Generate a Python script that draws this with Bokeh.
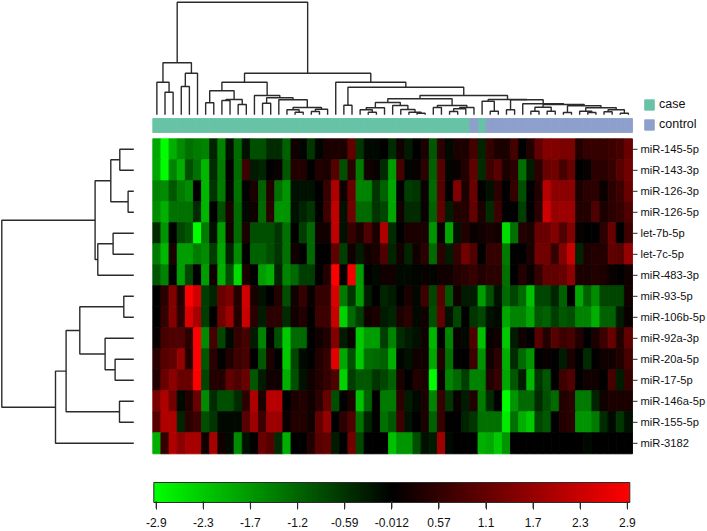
from bokeh.embed import file_html
from bokeh.resources import INLINE
from bokeh.plotting import figure
from bokeh.models import (ColumnDataSource, LinearColorMapper, ColorBar, FixedTicker,
                          Range1d, Legend, LegendItem)
from bokeh.core.properties import value

row_labels = ["miR-145-5p", "miR-143-3p", "miR-126-3p", "miR-126-5p", "let-7b-5p", "let-7c-5p", "miR-483-3p",
              "miR-93-5p", "miR-106b-5p", "miR-92a-3p", "miR-20a-5p", "miR-17-5p", "miR-146a-5p", "miR-155-5p",
              "miR-3182"]

mir145 = [-1.9,-2.9,-2.0,-1.6,-1.3,-1.4,-1.5,-0.4,-1.5,-0.2,-1.2,-0.2,-0.9,-0.9,-0.5,-0.5,-1.1,0.2,-0.05,-0.6,
          -0.05,0.3,0.3,0.3,1.1,-0.6,-0.1,-0.1,0,-0.5,0.2,-0.3,0,0.3,-1.0,0.5,-0.1,0.3,0.3,
          0.8,-0.4,0.6,0.3,0.3,0.8,0,0.4,1.1,1.5,1.5,1.4,1.4,0.4,0.6,0.6,0.6,0.7,0.8,1.2]
mir143 = [-1.9,-2.9,-1.5,-2.0,-0.9,-1.3,-2.1,-0.5,-1.4,0,-1.2,0.7,-0.3,-0.4,0,0.1,-1.0,0.4,0.4,0,
          0.4,0.3,1.0,-0.9,0.5,-1.4,0.2,0.1,-0.5,-1.8,0.8,-0.05,0.1,0.5,-1.1,1.0,-0.05,0.1,0.4,
          1.1,-0.5,0.7,1.0,0.3,0.5,-1.3,-0.3,0.5,1.2,1.3,0.8,1.2,0,0.1,0.5,0.5,0.6,1.0,1.3]
mir126_3p = [-1.5,-1.6,-1.0,-1.4,-1.6,0,-2.1,-0.6,-1.4,-0.05,-1.3,0,0.3,-1.1,0.4,-1.3,-1.7,-0.2,-0.2,-0.2,
             0,0.6,2.0,0.2,1.2,-1.5,-1.5,-0.6,-1.1,-1.9,0,-0.7,-0.6,0.1,-1.2,1.0,0,1.5,0.3,
             1.2,0,-0.2,0.5,0,0.6,-0.9,0,0.4,2.1,1.6,1.6,1.6,0.3,0.5,0.5,0.1,0.5,0.7,1.2]
mir126_5p = [-1.6,-2.0,-1.3,-1.3,-1.3,-0.5,-2.1,0,-0.9,0.3,-1.2,-0.1,0.2,-1.2,0.5,-1.7,-1.7,-0.2,-0.4,-0.6,
             0,0.7,2.2,-0.2,1.3,-1.2,-1.2,-0.6,-0.8,-1.9,0.2,-0.5,-0.5,0.1,-1.1,1.1,-0.3,0.4,0.4,
             1.1,0.3,-0.5,0.7,0,0,-0.7,0,0.5,2.4,1.7,1.8,1.8,0.4,0.4,0.9,0.3,0.5,0.6,0.9]
let7b = [-0.5,-1.7,0,-0.8,-1.0,-2.9,-1.4,-0.2,-1.8,0.2,-1.2,0.3,-0.9,-0.9,-0.9,-0.6,-1.3,0,-0.7,-1.2,
         0.2,0.2,2.2,-0.2,0.6,0.3,0.9,0.3,2.0,-0.5,0,0.3,0.3,0.3,-1.7,0.1,-1.9,-0.2,0.4,
         0.1,0.2,0.3,0.2,-2.5,-1.3,0.4,0.3,1.2,1.2,1.5,0.9,1.5,0.1,0,0,0.5,1.2,0,0.7]
let7c = [-1.4,-2.1,0.3,-1.8,-1.8,-1.4,-1.6,-0.7,-1.9,-0.4,-1.6,0,-1.1,-1.1,-0.9,-0.6,-1.3,0.2,0,-1.2,
         0,0,1.1,-0.7,0.2,-0.3,0.2,0.3,0.9,-0.4,0.2,-0.4,0.2,0.5,-1.2,0.5,-0.3,0.6,1.3,
         0.9,0,0.6,0.6,-1.4,0,0,0.3,1.3,1.3,0.6,1.5,2.3,-0.4,0.3,0.4,0.4,1.1,1.0,1.7]
mir483 = [-1.0,-1.5,0,-1.8,-0.8,0,-1.8,0.2,-2.0,-0.9,-2.5,0.3,0,-1.8,-2.0,-0.4,-1.5,-1.2,-0.7,-0.7,
          0,0.4,2.9,0.1,2.8,-1.8,0,-0.1,0.2,0.2,-0.1,-0.1,-0.05,0.1,-0.05,0.2,0.2,0.4,0.5,
          0.6,0.4,0.5,0.5,-1.3,0,0.4,0.1,0.6,1.1,1.1,1.2,1.6,0.3,0.3,0.4,0.3,0.1,0,0.2]
mir93 = [0,0.5,1.5,0.4,2.9,2.4,-0.7,-0.4,1.2,1.4,0.4,2.4,0.3,-0.2,0,0.4,-0.9,0.2,0.6,0.1,
         0.6,0.6,2.5,-1.4,-0.6,-1.8,-0.3,0,-0.4,-0.3,0,0.3,-0.1,0.7,-0.8,1.0,-1.0,0.2,-0.3,
         -0.3,-1.8,-0.9,-0.2,-1.2,-0.8,-1.2,-2.2,-0.8,-0.8,-0.4,-1.1,0,-1.9,-1.1,-1.6,-0.8,-0.8,-0.8,0.2]
mir106b = [0,0.6,1.5,0.5,2.5,1.9,-0.7,0,1.3,1.8,0.4,2.3,0.5,-0.3,0.5,0.5,-0.5,0.2,0.4,0,
           0.7,0.7,2.3,-2.4,-1.2,-0.7,0.2,0.3,-0.3,-0.4,0.3,0.5,-0.1,0.2,-0.9,1.1,-0.2,-0.8,0,
           -0.6,-0.8,-0.2,-0.1,-1.9,-1.5,-1.5,-1.9,-1.0,-1.1,-0.7,-1.0,-0.9,-1.5,-1.5,-2.0,-1.1,-1.1,-0.3,0.1]
mir92a = [0.1,0.8,0.9,0.9,0.5,2.9,-1.6,0.8,-0.8,-0.1,0.6,0.8,-0.3,-1.5,0,-0.9,-2.3,-1.2,-1.2,0,
          0.2,0.4,1.5,-0.3,0.1,-2.3,-1.8,-1.8,-0.7,-1.5,-0.5,-0.3,-0.2,0.2,-2.1,0,-1.5,0.1,-0.1,
          0.9,-2.2,0.1,0.2,-2.3,-0.3,0.2,0,1.0,0.4,1.0,0.7,0.8,0.4,0,0.3,0.7,1.2,0.4,1.1]
mir20a = [0.5,1.0,1.1,1.7,0.4,2.9,-1.0,0.5,0,0.4,0.7,0.8,0,-1.0,0.3,0,-2.3,-0.8,-0.1,0,
          0.4,0.6,2.6,-1.9,-0.9,-2.3,-1.3,-1.2,-1.1,-2.0,-0.05,-0.2,0.2,0.2,-1.9,0.4,-1.3,0,0,
          0.7,-1.7,0.2,0.5,-2.0,-0.5,-1.2,-1.7,0,0.1,0,-0.3,0.3,0,-0.5,0,0.2,0.2,0.4,0.8]
mir17 = [0.4,1.2,1.6,1.2,1.2,2.9,-0.8,0.4,0.4,1.1,0.9,1.2,-1.0,-0.3,0.2,0.2,-2.0,-0.9,-0.2,0.2,
         0.4,0.6,0.9,-2.4,-0.7,-1.0,-1.0,-0.6,-0.8,-1.1,0.3,0,0.4,0.3,-2.9,0.1,-1.5,-1.2,-0.7,
         -1.5,-1.5,0.4,0.6,-1.9,-1.0,-0.3,-2.1,-0.6,-1.0,0,0.7,0.9,0,0.2,0.2,0,0.8,-0.3,0.6]
mir146a = [1.4,2.0,1.3,-0.1,0.4,1.2,-1.6,-0.5,-0.9,-0.9,-0.5,0.5,2.0,0.3,2.1,2.1,0,0.3,0.4,0.2,
           0.5,1.2,-0.9,0,0.3,-2.2,-1.1,0,-1.4,-1.4,0.5,-0.3,-0.1,0.3,-1.5,0.6,-0.6,0.1,-0.3,
           0.4,-1.4,-0.5,0,-2.9,-1.7,-1.2,-1.2,-0.5,-0.9,-1.2,0.4,0.5,-1.4,-1.4,-0.4,0.2,0.3,0.3,0.3]
mir155 = [1.0,2.0,2.0,-0.4,0.5,0.7,-0.9,-0.6,-0.1,-0.1,-0.1,1.0,1.8,0.7,1.8,1.8,0.1,0.4,0.4,0.2,
          1.1,1.7,0,0.5,0.9,-1.3,-0.4,0,-1.3,-1.0,0.7,-0.2,0,0.3,-1.1,0.6,0,0,-0.4,
          -0.6,-1.3,-1.3,-1.3,-2.7,-1.3,-2.0,-2.3,-0.8,-1.0,0,0.4,0.5,-1.7,-1.7,-1.4,-0.5,-0.1,-0.6,-0.2]
mir3182 = [-2.0,0.6,2.0,1.6,1.9,1.9,0.2,1.9,0.2,-0.1,-1.6,-0.2,0,1.2,1.0,-0.5,-2.0,0,0,0.4,
           1.0,1.1,-0.3,0,1.3,-0.8,0,0,0,-2.2,-1.7,-1.7,-0.9,-0.2,-0.3,1.8,-0.1,0,0,
           0,-2.0,-1.9,-2.3,-1.7,0,0,0,0,0,0,0,0,0,-0.1,0,0,0,0,0]
rows = [mir145, mir143, mir126_3p, mir126_5p, let7b, let7c, mir483, mir93, mir106b, mir92a, mir20a, mir17,
        mir146a, mir155, mir3182]

# sample classes, in heatmap column order
col_groups = ["case"] * 39 + ["control"] + ["case"] + ["control"] * 18

# dendrograms: nested (left, right, merge height); ints are leaf positions
col_left = ((0, (1, 2, 22.6), 32.6), ((3, 4, 28.3), 5, 41.6), 52)
col_b = (((6, 7, 12), ((8, 9, 14.3), (10, 11, 10.3), 15.3), 24),
         (12, ((13, 14, 11.6), (15, ((16, (17, 18, 2.6), 5), ((19, 20, 3.3), 21, 5.6), 7.3), 15), 17), 19.3), 32.6)
col_n2 = (((25, (26, 27, 2.6), 5), 28, 7), (29, (30, (31, (32, 33, 1.6), 2.6), 5.3), 9.3), 12.3)
col_n3 = ((34, 35, 7.3), (((36, 37, 3.3), 38, 6), 39, 7.3), 9.3)
col_n5 = ((40, (41, 42, 3.6), 13.6),
          ((43, 44, 5), (45, (((46, 47, 3.6), (48, 49, 3.6), 7.6),
                              ((50, 51, 2.3), ((52, (53, 54, 2.3), 3.6), ((55, 56, 3), (57, 58, 1.6), 5), 7), 9), 10.3), 11), 15), 15.3)
col_c = (22, ((23, 24, 9.6), ((col_n2, col_n3, 16), col_n5, 19.3), 27.6), 32.6)
col_tree = (col_left, (col_b, col_c, 41.6), 112.6)
row_tree = ((((0, 1, 14), (2, 3, 5.7), 23), ((4, 5, 20.7), 6, 36), 38.7),
            ((((7, 8, 10), (9, (10, 11, 18.7), 28.7), 54), (12, 13, 14.3), 67.7), 14, 78.3), 132)

tick_values = [-2.9, -2.32, -1.74, -1.16, -0.58, 0, 0.58, 1.16, 1.74, 2.32, 2.9]
tick_labels = ["-2.9", "-2.3", "-1.7", "-1.2", "-0.59", "-0.012", "0.57", "1.1", "1.7", "2.3", "2.9"]


def walk(node, segs):
    """Return (leaf position, height) of a node, collecting U-shaped links."""
    if isinstance(node, int):
        return node + 0.5, 0.0
    pa, ha = walk(node[0], segs)
    pb, hb = walk(node[1], segs)
    segs.append(([pa, pa, pb, pb], [ha, node[2], node[2], hb]))
    return (pa + pb) / 2, node[2]


FONT = "Liberation Sans"
INK = "#2b2b2b"
n_cols, n_rows = len(mir145), len(rows)
for r in rows:
    assert len(r) == n_cols

palette = ["#%02x%02x%02x" % (max(0, 2 * i - 255), max(0, 255 - 2 * i), 0) for i in range(256)]
key_low, key_high = -2.93, 2.93
mapper = LinearColorMapper(palette=palette, low=key_low, high=key_high)

W, H = 707, 531
col_px = 479.7 / n_cols
left_px, top_px, row_px = 152.3, 138.3, 21.0

p = figure(width=W, height=H, output_backend="svg", toolbar_location=None,
           x_axis_location=None, y_axis_location=None,
           x_range=Range1d(-left_px / col_px, (W - left_px) / col_px),
           y_range=Range1d((H - top_px) / row_px, -top_px / row_px),
           min_border=0)
p.outline_line_color = None
p.grid.visible = False
p.xgrid.visible = False
p.ygrid.visible = False

# dendrogram height scales: one unit per pixel, baselines above the bar and left of the heatmap
p.extra_y_ranges = {"colh": Range1d(114.3 - H, 114.3)}
p.extra_x_ranges = {"rowh": Range1d(133.3, 133.3 - W),
                    "key": Range1d(key_low - 153.3 * (key_high - key_low) / 476,
                                   key_high + (W - 629.3) * (key_high - key_low) / 476)}

# heatmap
src = ColumnDataSource(dict(
    x=[c + 0.5 for _ in range(n_rows) for c in range(n_cols)],
    y=[r + 0.5 for r in range(n_rows) for _ in range(n_cols)],
    v=[v for row in rows for v in row]))
fc = {"field": "v", "transform": mapper}
p.rect("x", "y", width=1, height=1, source=src, fill_color=fc, line_color=fc, line_width=0.9)

# class annotation bar
bar_top, bar_bottom = -0.967, -0.3
renderers = {}
for group, colour in (("case", "#68c3a6"), ("control", "#8da0cb")):
    cols = [i for i, g in enumerate(col_groups) if g == group]
    renderers[group] = p.quad(left=cols, right=[c + 1 for c in cols], top=bar_top, bottom=bar_bottom,
                              fill_color=colour, line_color=colour, line_width=0.9)

# dendrograms
segs = []
walk(col_tree, segs)
p.multi_line([s[0] for s in segs], [s[1] for s in segs], y_range_name="colh", line_color=INK, line_width=1.4)
segs = []
walk(row_tree, segs)
p.multi_line([s[1] for s in segs], [s[0] for s in segs], x_range_name="rowh", line_color=INK, line_width=1.4)

# row ticks and labels
centres = [r + 0.5 for r in range(n_rows)]
p.segment(x0=[n_cols] * n_rows, x1=[n_cols + 5 / col_px] * n_rows, y0=centres, y1=centres, line_color=INK, line_width=1)
p.text(x=[n_cols] * n_rows, y=centres, text=row_labels, x_offset=8, text_baseline="middle", text_align="left",
       text_font=value(FONT), text_font_size="11.2px", text_color="#111111")

# class legend, right of the annotation bar
legend = Legend(items=[LegendItem(label=k, renderers=[v]) for k, v in renderers.items()],
                location=(643, 400), padding=0, margin=0, spacing=6, glyph_width=12, glyph_height=13,
                label_standoff=4, label_height=13, border_line_color=None, background_fill_alpha=0,
                label_text_font=FONT, label_text_font_size="12.5px", label_text_color="#111111")
p.add_layout(legend, "center")

# colour key
cb = ColorBar(color_mapper=mapper, orientation="horizontal", width=476, height=20, location=(153.3, 2),
              ticker=FixedTicker(ticks=tick_values),
              major_label_overrides=dict(zip(tick_values, tick_labels)),
              padding=0, margin=0, border_line_color=None, background_fill_alpha=0,
              bar_line_color=INK, bar_line_width=1, major_tick_out=7, major_tick_in=0,
              major_tick_line_color=INK, minor_tick_line_color=None, label_standoff=8,
              major_label_text_font=FONT, major_label_text_font_size="12px", major_label_text_color="#111111")
p.add_layout(cb, "center")

# colour key ticks, on the key's own value scale, drawn above the key's backing box
key_top, key_bottom = (500.7 - top_px) / row_px, (507.7 - top_px) / row_px
p.segment(x0=tick_values, x1=tick_values, y0=[key_top] * len(tick_values), y1=[key_bottom] * len(tick_values),
          x_range_name="key", line_color=INK, line_width=1.2, level="overlay")

open("out.html", "w").write(file_html(p, INLINE))
